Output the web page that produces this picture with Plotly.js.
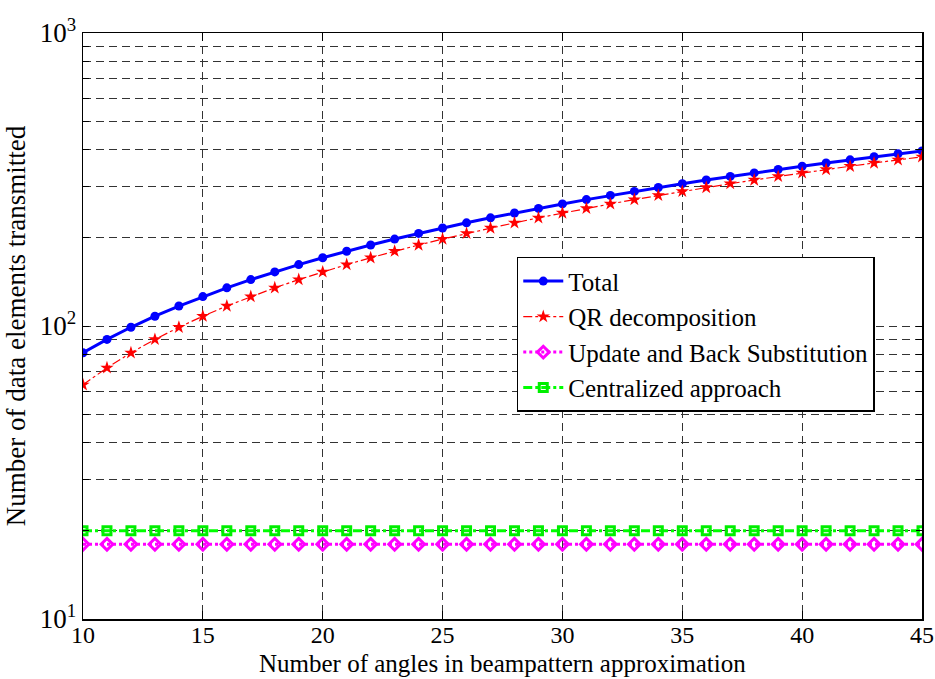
<!DOCTYPE html>
<html><head><meta charset="utf-8">
<script src="https://cdn.plot.ly/plotly-3.0.1.min.js"></script>
<style>html,body{margin:0;padding:0;background:#fff}#chart{width:935px;height:679px}</style>
</head><body><div id="chart"></div>
<script>
const angles = [10,11,12,13,14,15,16,17,18,19,20,21,22,23,24,25,26,27,28,29,30,31,32,33,34,35,36,37,38,39,40,41,42,43,44,45];
const total = [81,90,99,108,117,126,135,144,153,162,171,180,189,198,207,216,225,234,243,252,261,270,279,288,297,306,315,324,333,342,351,360,369,378,387,396];
const qrDecomposition = [63,72,81,90,99,108,117,126,135,144,153,162,171,180,189,198,207,216,225,234,243,252,261,270,279,288,297,306,315,324,333,342,351,360,369,378];
const updateBackSub = [18,18,18,18,18,18,18,18,18,18,18,18,18,18,18,18,18,18,18,18,18,18,18,18,18,18,18,18,18,18,18,18,18,18,18,18];
const centralized = [20,20,20,20,20,20,20,20,20,20,20,20,20,20,20,20,20,20,20,20,20,20,20,20,20,20,20,20,20,20,20,20,20,20,20,20];
const seriesNames = ["Total","QR decomposition","Update and Back Substitution","Centralized approach"];
const xTitle = "Number of angles in beampattern approximation";
const yTitle = "Number of data elements transmitted";
const yTickVals = [10,20,30,40,50,60,70,80,90,100,200,300,400,500,600,700,800,900,1000];
const yTickText = ["10<sup>1</sup>","","","","","","","","","10<sup>2</sup>","","","","","","","","","10<sup>3</sup>"];

const font = "Liberation Serif, Times New Roman, serif";
const traces = [
  {x: angles, y: total, name: seriesNames[0], mode: "lines+markers",
   line: {color: "#0000ff", width: 3}, marker: {symbol: "circle", size: 9, color: "#0000ff"}},
  {x: angles, y: qrDecomposition, name: seriesNames[1], mode: "lines+markers",
   line: {color: "#ff0000", width: 1.2, dash: "dashdot"}, marker: {symbol: "star", size: 10, color: "#ff0000"}},
  {x: angles, y: updateBackSub, name: seriesNames[2], mode: "lines+markers",
   line: {color: "#ff00ff", width: 3, dash: "dot"},
   marker: {symbol: "diamond-open", size: 9, color: "#ff00ff", line: {width: 3, color: "#ff00ff"}}},
  {x: angles, y: centralized, name: seriesNames[3], mode: "lines+markers",
   line: {color: "#00ff00", width: 3, dash: "dashdot"},
   marker: {symbol: "square-open", size: 8, color: "#00ee00", line: {width: 3, color: "#00ee00"}}}
];
const layout = {
  width: 935, height: 679,
  margin: {l: 83, r: 13, t: 33, b: 60},
  paper_bgcolor: "#fff", plot_bgcolor: "#fff",
  font: {family: font, size: 25, color: "#000"},
  showlegend: true,
  legend: {x: 0.517, y: 0.618, xanchor: "left", yanchor: "top",
    bgcolor: "#fff", bordercolor: "#000", borderwidth: 1.5,
    font: {family: font, size: 25, color: "#000"}, tracegroupgap: 0, itemwidth: 40},
  xaxis: {range: [10, 45], dtick: 5, tick0: 10, ticklabeloverflow: "allow", ticklabelstandoff: -6,
    showline: true, linecolor: "#000", linewidth: 1.5, mirror: "ticks",
    ticks: "inside", ticklen: 8, tickcolor: "#000",
    showgrid: true, gridcolor: "#333", griddash: "8px,5px", gridwidth: 1,
    zeroline: false, tickfont: {family: font, size: 24}},
  yaxis: {type: "log", range: [1, 3], tickmode: "array", tickvals: yTickVals, ticktext: yTickText,
    ticklabeloverflow: "allow",
    showline: true, linecolor: "#000", linewidth: 1.5, mirror: "ticks",
    ticks: "inside", ticklen: 6, tickcolor: "#000",
    showgrid: true, gridcolor: "#333", griddash: "8px,5px", gridwidth: 1,
    zeroline: false, tickfont: {family: font, size: 27},
    title: {text: yTitle, font: {family: font, size: 27}, standoff: 6}},
  annotations: [{text: xTitle, xref: "paper", yref: "paper", x: 0.5, y: -0.1,
    xanchor: "center", yanchor: "bottom", showarrow: false, borderpad: 0,
    font: {family: font, size: 25, color: "#000"}}]
};
Plotly.newPlot("chart", traces, layout, {displayModeBar: false, staticPlot: true});
</script></body></html>
